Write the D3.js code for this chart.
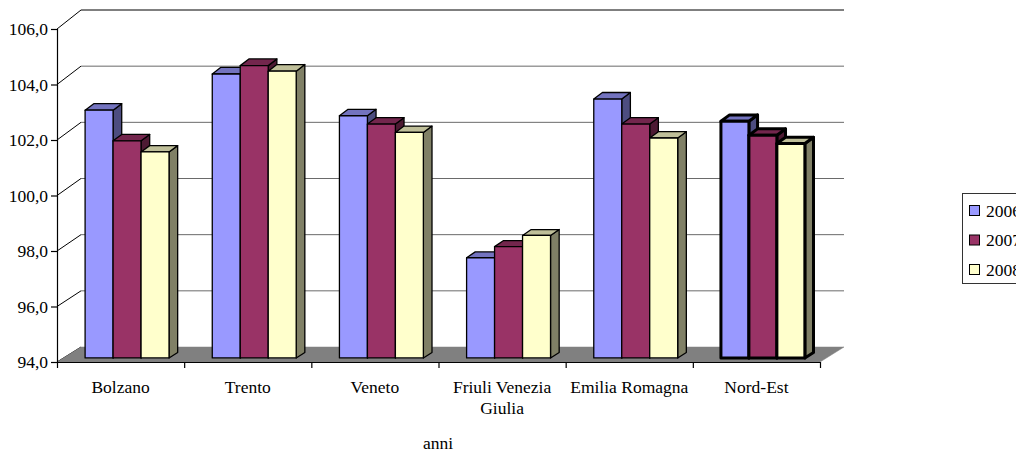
<!DOCTYPE html>
<html>
<head>
<meta charset="utf-8">
<script src="https://cdn.jsdelivr.net/npm/d3@7"></script>
<style>
  html, body { margin: 0; padding: 0; background: #fff; overflow: hidden; }
  svg { display: block; }
  svg text { font-family: "Liberation Serif", "Times New Roman", "DejaVu Serif", serif; }
</style>
</head>
<body>
<svg id="chart" width="1016" height="453"></svg>
<script>
// Regional index values by year
const categories = ["Bolzano", "Trento", "Veneto", "Friuli Venezia Giulia", "Emilia Romagna", "Nord-Est"];
const years = ["2006", "2007", "2008"];
const v2006 = [102.9, 104.2, 102.7, 97.6, 103.3, 102.5];
const v2007 = [101.8, 104.5, 102.4, 98.0, 102.4, 102.0];
const v2008 = [101.4, 104.3, 102.1, 98.4, 101.9, 101.7];
const yTicks = [94, 96, 98, 100, 102, 104, 106];
const axisTitle = "anni";

const seriesValues = [v2006, v2007, v2008];
const fills = ["#9999FF", "#993366", "#FFFFCC"];
const tops = ["#7373BF", "#73264D", "#BFBF99"];
const sides = ["#4D4D80", "#4D1A33", "#808066"];

const svg = d3.select("#chart");
const FONT = 17.5;
const SERIF = "'Liberation Serif', 'Times New Roman', 'DejaVu Serif', serif";

// Plot geometry: front plane of the floor and the back wall offset
const x0 = 57, x1 = 820, DX = 24;
const yFront = d3.scaleLinear().domain([94, 106]).range([362, 29]);
const yBack = d3.scaleLinear().domain([94, 106]).range([347, 10]);

// project a point at front-plane x, value v, depth t (0 = front, 1 = back wall)
function proj(x, v, t) {
  return [x + t * DX, (1 - t) * yFront(v) + t * yBack(v)];
}

const xBand = d3.scaleBand().domain(categories).range([x0, x1]).paddingInner(0).paddingOuter(0);
const bw = xBand.bandwidth();
const gap = bw * 0.17;
const xSub = d3.scaleBand().domain(years).range([gap, bw - gap]);

const fmt = d3.formatLocale({ decimal: ",", thousands: ".", grouping: [3], currency: ["€", ""] }).format(".1f");

// Back wall gridlines and left wall diagonals
const grid = svg.append("g");
yTicks.forEach(v => {
  const a = proj(x0, v, 1), b = proj(x1, v, 1), f = proj(x0, v, 0);
  if (v > 94) {
    grid.append("line")
      .attr("x1", a[0]).attr("y1", a[1]).attr("x2", b[0]).attr("y2", b[1])
      .attr("stroke", v === 106 ? "#000" : "#6a6a6a").attr("stroke-width", 1);
  }
  grid.append("line")
    .attr("x1", f[0]).attr("y1", f[1]).attr("x2", a[0]).attr("y2", a[1])
    .attr("stroke", "#000").attr("stroke-width", 1);
});

// Floor
const floorPts = [proj(x0, 94, 0), proj(x1, 94, 0), proj(x1, 94, 1), proj(x0, 94, 1)];
svg.append("path")
  .attr("d", d3.line()(floorPts) + "Z")
  .attr("fill", "#808080").attr("stroke", "#808080").attr("stroke-width", 0.5);

// Bars (drawn left to right so each front face hides its neighbour's side)
const t0 = 0.27, t1 = 0.63;
const bars = svg.append("g");
categories.forEach((cat, ci) => {
  const heavy = cat === "Nord-Est";
  years.forEach((yr, si) => {
    const v = seriesValues[si][ci];
    const xl = xBand(cat) + xSub(yr);
    const xr = xl + xSub.bandwidth();
    const fbl = proj(xl, 94, t0), fbr = proj(xr, 94, t0);
    const ftl = proj(xl, v, t0), ftr = proj(xr, v, t0);
    const btl = proj(xl, v, t1), btr = proj(xr, v, t1);
    const bbr = proj(xr, 94, t1);
    const sw = heavy ? 3 : 1.3;
    const g = bars.append("g")
      .attr("stroke", "#000").attr("stroke-width", sw).attr("stroke-linejoin", "round");
    g.append("path").attr("d", d3.line()([ftr, btr, bbr, fbr]) + "Z").attr("fill", sides[si]);
    g.append("path").attr("d", d3.line()([ftl, ftr, btr, btl]) + "Z").attr("fill", tops[si]);
    g.append("path").attr("d", d3.line()([fbl, fbr, ftr, ftl]) + "Z").attr("fill", fills[si]);
  });
});

// Value axis on the front plane
const yAxis = svg.append("g")
  .attr("transform", `translate(${x0},0)`)
  .call(d3.axisLeft(yFront).tickValues(yTicks).tickFormat(fmt).tickSize(6).tickPadding(3))
  .attr("font-family", SERIF).attr("font-size", FONT);
yAxis.select(".domain").attr("stroke", "#000").attr("stroke-width", 1.2);
yAxis.selectAll(".tick line").attr("stroke", "#000").attr("stroke-width", 1.2);
yAxis.selectAll(".tick text").attr("fill", "#000");

// Category axis: boundary ticks
const edgeScale = d3.scaleLinear().domain([0, categories.length]).range([x0, x1]);
const xAxis = svg.append("g")
  .attr("transform", `translate(0,${yFront(94)})`)
  .call(d3.axisBottom(edgeScale).tickValues(d3.range(categories.length + 1)).tickFormat("").tickSize(6).tickSizeOuter(0));
xAxis.select(".domain").attr("stroke", "#000").attr("stroke-width", 1.2);
xAxis.selectAll(".tick line").attr("stroke", "#000").attr("stroke-width", 1.2);

// Category labels, wrapped to the band width
const labelAxis = svg.append("g")
  .attr("transform", `translate(0,${yFront(94)})`)
  .call(d3.axisBottom(xBand).tickSize(0).tickPadding(0))
  .attr("font-family", SERIF).attr("font-size", FONT);
labelAxis.select(".domain").remove();
labelAxis.selectAll(".tick text")
  .attr("fill", "#000").attr("y", 31).attr("dy", 0)
  .each(function (d) {
    const text = d3.select(this);
    const words = d.split(" ");
    text.text(null);
    let line = [];
    let tspan = text.append("tspan").attr("x", 0).attr("y", 31);
    let lineNo = 0;
    words.forEach(w => {
      line.push(w);
      tspan.text(line.join(" "));
      if (tspan.node().getComputedTextLength() > bw - 2 && line.length > 1) {
        line.pop();
        tspan.text(line.join(" "));
        line = [w];
        lineNo++;
        tspan = text.append("tspan").attr("x", 0).attr("y", 31 + lineNo * 21).text(w);
      }
    });
  });

// Axis title
svg.append("text")
  .attr("x", 438).attr("y", 449)
  .attr("text-anchor", "middle")
  .attr("font-family", SERIF).attr("font-size", FONT)
  .text(axisTitle);

// Legend
const legend = svg.append("g").attr("font-family", SERIF).attr("font-size", FONT);
legend.append("rect")
  .attr("x", 962.5).attr("y", 193.5).attr("width", 90).attr("height", 90)
  .attr("fill", "#fff").attr("stroke", "#333").attr("stroke-width", 1);
const legY = d3.scalePoint().domain(years).range([210.5, 269.5]);
years.forEach((yr, i) => {
  legend.append("rect")
    .attr("x", 969.5).attr("y", legY(yr) - 5).attr("width", 10).attr("height", 10)
    .attr("fill", fills[i]).attr("stroke", "#000").attr("stroke-width", 1);
  legend.append("text")
    .attr("x", 986).attr("y", legY(yr) + 6)
    .text(yr);
});
</script>
</body>
</html>
